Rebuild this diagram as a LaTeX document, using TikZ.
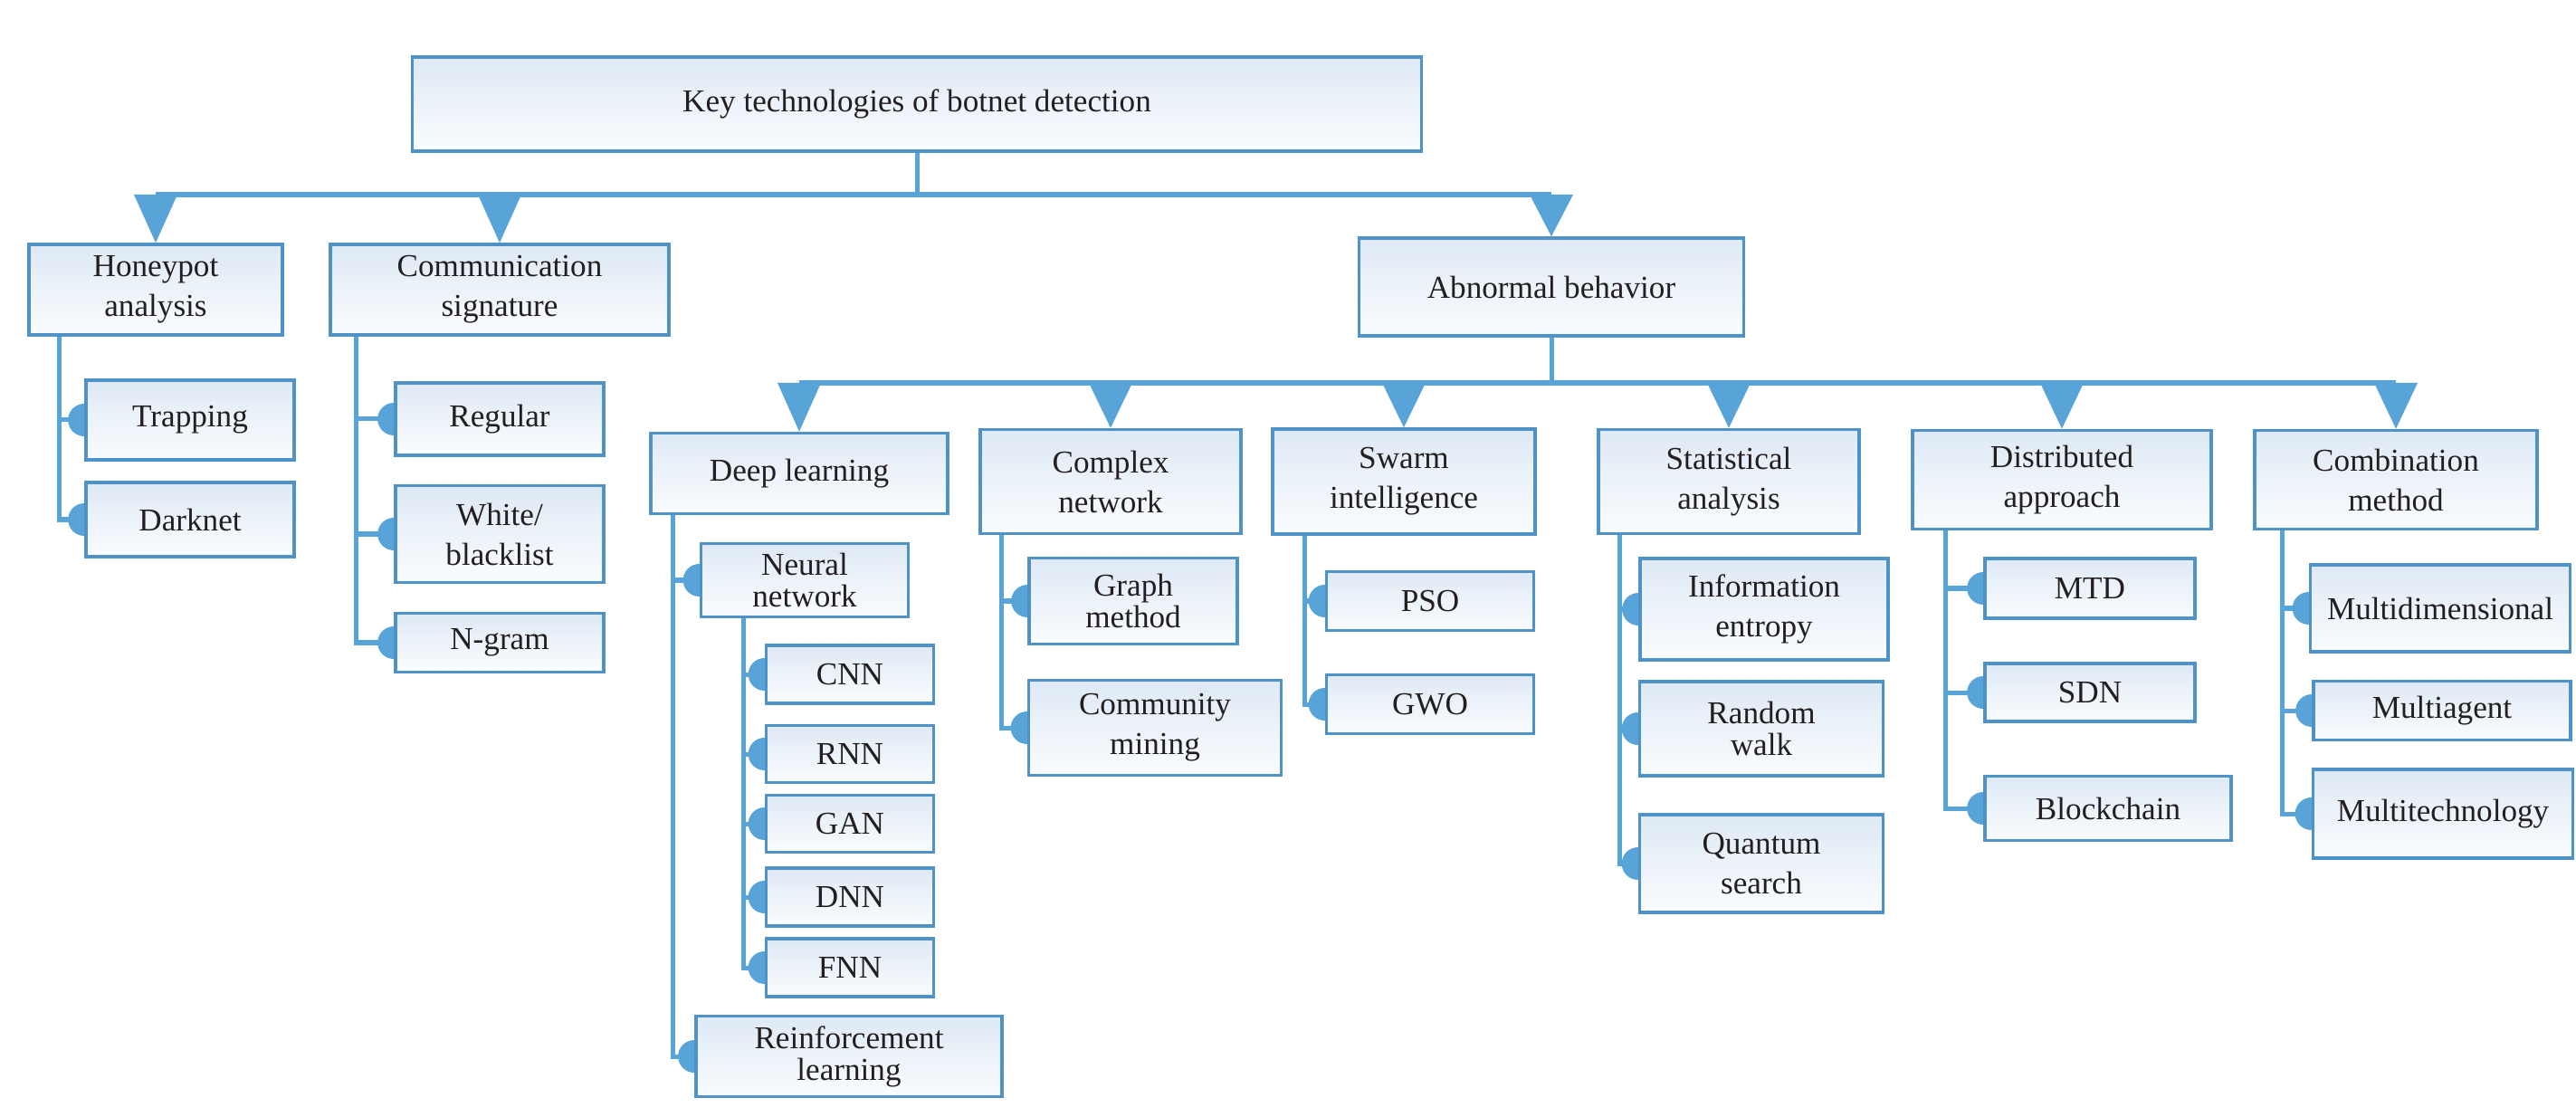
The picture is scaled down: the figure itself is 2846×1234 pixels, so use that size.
\documentclass[tikz,border=0pt]{standalone}
\usepackage{fontspec}
\setmainfont{Liberation Serif}
\usetikzlibrary{calc,backgrounds}
\definecolor{bord}{RGB}{78,146,200}
\definecolor{conn}{RGB}{88,163,216}
\definecolor{txt}{RGB}{35,31,32}
\definecolor{topfill}{RGB}{222,233,245}
\definecolor{botfill}{RGB}{250,252,254}
\tikzset{
  box/.style={draw=bord, line width=0.035cm, top color=topfill, bottom color=botfill,
    text=txt, align=center, inner sep=0pt, font=\fontsize{10pt}{12.5pt}\selectfont},
  tight/.style={font=\fontsize{10pt}{10pt}\selectfont},
  link/.style={draw=conn, line width=0.05cm},
  busline/.style={draw=conn, line width=0.065cm},
  knob/.style={fill=conn},
  tri/.style={fill=conn},
}
\newcommand{\arrowto}[2]{\fill[tri] ($(#1.north |- #2)+(-24,0)$) -- ($(#1.north |- #2)+(24,0)$) -- (#1.north) -- cycle;}
\newcommand{\childof}[2]{\draw[link] (#1) |- (#2.west); \fill[knob] (#2.west) circle (0.18cm);}
\begin{document}
\begin{tikzpicture}[x=0.01cm,y=-0.01cm]
\useasboundingbox (0,0) rectangle (2846,1234);
% level 0 and 1
\node[box, minimum width=11.14cm, minimum height=1.04cm] (top) at (1013,115) {Key technologies of botnet detection};
\node[box, minimum width=2.80cm, minimum height=1.00cm] (hp) at (172,320) {Honeypot\\analysis};
\node[box, minimum width=3.74cm, minimum height=1.00cm] (cs) at (552,320) {Communication\\signature};
\node[box, minimum width=4.25cm, minimum height=1.08cm] (ab) at (1714,317) {Abnormal behavior};
% honeypot children
\node[box, minimum width=2.30cm, minimum height=0.88cm] (trap) at (210,464) {Trapping};
\node[box, minimum width=2.30cm, minimum height=0.82cm] (dark) at (210,574) {Darknet};
% communication children
\node[box, minimum width=2.30cm, minimum height=0.80cm] (reg) at (552,463) {Regular};
\node[box, minimum width=2.30cm, minimum height=1.07cm] (wb) at (552,590) {White/\\blacklist};
\node[box, minimum width=2.30cm, minimum height=0.65cm] (ngram) at (552,710) {N-gram};
% level 2
\node[box, minimum width=3.28cm, minimum height=0.89cm] (dl) at (883,523) {Deep learning};
\node[box, minimum width=2.88cm, minimum height=1.15cm] (cn) at (1227,532) {Complex\\network};
\node[box, minimum width=2.90cm, minimum height=1.16cm] (sw) at (1551,532) {Swarm\\intelligence};
\node[box, minimum width=2.88cm, minimum height=1.15cm] (st) at (1910,532) {Statistical\\analysis};
\node[box, minimum width=3.30cm, minimum height=1.09cm] (da) at (2278,530) {Distributed\\approach};
\node[box, minimum width=3.12cm, minimum height=1.09cm] (cm) at (2647,530) {Combination\\method};
% deep learning children
\node[box, tight, minimum width=2.29cm, minimum height=0.81cm] (nn) at (889,641) {Neural\\network};
\node[box, minimum width=1.85cm, minimum height=0.64cm] (cnn) at (939,745) {CNN};
\node[box, minimum width=1.85cm, minimum height=0.63cm] (rnn) at (939,833) {RNN};
\node[box, minimum width=1.85cm, minimum height=0.63cm] (gan) at (939,910) {GAN};
\node[box, minimum width=1.85cm, minimum height=0.64cm] (dnn) at (939,991) {DNN};
\node[box, minimum width=1.85cm, minimum height=0.64cm] (fnn) at (939,1069) {FNN};
\node[box, tight, minimum width=3.38cm, minimum height=0.89cm] (rl) at (938,1167) {Reinforcement\\learning};
% complex network children
\node[box, tight, minimum width=2.30cm, minimum height=0.95cm] (gm) at (1252,664) {Graph\\method};
\node[box, minimum width=2.79cm, minimum height=1.05cm] (cmn) at (1276,804) {Community\\mining};
% swarm children
\node[box, minimum width=2.29cm, minimum height=0.65cm] (pso) at (1580,664) {PSO};
\node[box, minimum width=2.29cm, minimum height=0.65cm] (gwo) at (1580,778) {GWO};
% statistical children
\node[box, minimum width=2.74cm, minimum height=1.12cm] (ie) at (1949,673) {Information\\entropy};
\node[box, tight, minimum width=2.69cm, minimum height=1.04cm] (rw) at (1946,805) {Random\\walk};
\node[box, minimum width=2.69cm, minimum height=1.08cm] (qs) at (1946,954) {Quantum\\search};
% distributed children
\node[box, minimum width=2.32cm, minimum height=0.66cm] (mtd) at (2309,650) {MTD};
\node[box, minimum width=2.32cm, minimum height=0.64cm] (sdn) at (2309,765) {SDN};
\node[box, minimum width=2.72cm, minimum height=0.71cm] (bc) at (2329,893) {Blockchain};
% combination children
\node[box, minimum width=2.87cm, minimum height=0.96cm] (md) at (2696,672) {Multidimensional};
\node[box, minimum width=2.84cm, minimum height=0.65cm] (ma) at (2698,785) {Multiagent};
\node[box, minimum width=2.87cm, minimum height=0.98cm] (mt) at (2699,899) {Multitechnology};

\coordinate (bus1) at (0,215);
\coordinate (bus2) at (0,423);
\coordinate (hpl) at ($(hp.south west)+(35,0)$);
\coordinate (csl) at ($(cs.south west)+(30,0)$);
\coordinate (dll) at ($(dl.south west)+(26,0)$);
\coordinate (nnl) at ($(nn.south west)+(49,0)$);
\coordinate (cnl) at ($(cn.south west)+(25,0)$);
\coordinate (swl) at ($(sw.south west)+(37,0)$);
\coordinate (stl) at ($(st.south west)+(25,0)$);
\coordinate (dal) at ($(da.south west)+(38,0)$);
\coordinate (cml) at ($(cm.south west)+(32,0)$);

\begin{pgfonlayer}{background}
% main bus
\draw[link] (top.south) -- (top.south |- bus1);
\draw[busline] (hp.north |- bus1) -- (ab.north |- bus1);
\arrowto{hp}{bus1}
\arrowto{cs}{bus1}
\arrowto{ab}{bus1}
% second bus
\draw[link] (ab.south) -- (ab.south |- bus2);
\draw[busline] (dl.north |- bus2) -- (cm.north |- bus2);
\arrowto{dl}{bus2}
\arrowto{cn}{bus2}
\arrowto{sw}{bus2}
\arrowto{st}{bus2}
\arrowto{da}{bus2}
\arrowto{cm}{bus2}
% children
\childof{hpl}{trap}
\childof{hpl}{dark}
\childof{csl}{reg}
\childof{csl}{wb}
\childof{csl}{ngram}
\childof{dll}{nn}
\childof{dll}{rl}
\childof{nnl}{cnn}
\childof{nnl}{rnn}
\childof{nnl}{gan}
\childof{nnl}{dnn}
\childof{nnl}{fnn}
\childof{cnl}{gm}
\childof{cnl}{cmn}
\childof{swl}{pso}
\childof{swl}{gwo}
\childof{stl}{ie}
\childof{stl}{rw}
\childof{stl}{qs}
\childof{dal}{mtd}
\childof{dal}{sdn}
\childof{dal}{bc}
\childof{cml}{md}
\childof{cml}{ma}
\childof{cml}{mt}
\end{pgfonlayer}
\end{tikzpicture}
\end{document}
